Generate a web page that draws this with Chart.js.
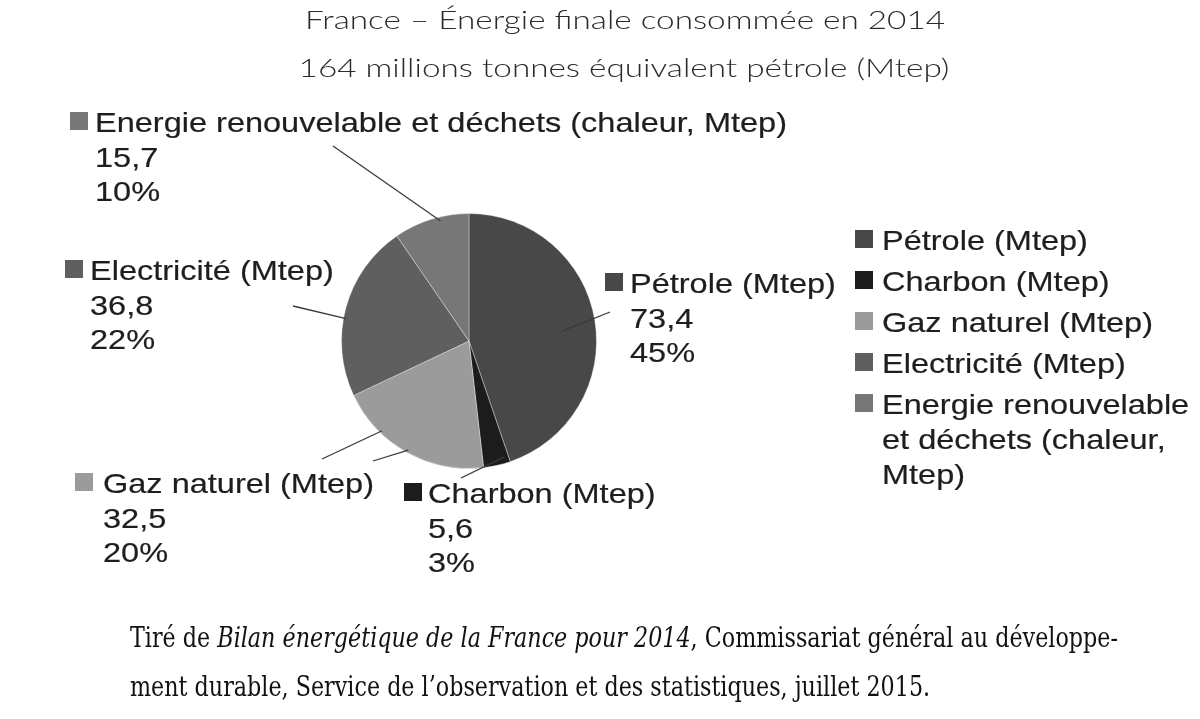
<!DOCTYPE html>
<html lang="fr">
<head>
<meta charset="utf-8">
<title>France – Énergie finale consommée en 2014</title>
<script src="https://cdn.jsdelivr.net/npm/chart.js@4.4.1/dist/chart.umd.min.js"></script>
<style>
  html, body { margin: 0; padding: 0; background: #fff; }
  #wrap { width: 1200px; height: 719px; }
</style>
</head>
<body>
<div id="wrap"><canvas id="energyChart" width="1200" height="719"></canvas></div>
<script>
// data
const categories = ['Pétrole (Mtep)', 'Charbon (Mtep)', 'Gaz naturel (Mtep)', 'Electricité (Mtep)', 'Energie renouvelable et déchets (chaleur, Mtep)'];
const valuesMtep = [73.4, 5.6, 32.5, 36.8, 15.7];
const sliceColors = ['#484848', '#1c1c1c', '#9b9b9b', '#5f5f5f', '#777777'];

const titleLines = ['France – Énergie finale consommée en 2014', '164 millions tonnes équivalent pétrole (Mtep)'];

// layout of the annotations (text boxes beside the pie)
const labelBoxes = [
    { x: 605, y: 293, tx: 630 },
    { x: 404, y: 503, tx: 428 },
    { x: 75, y: 493, tx: 103 },
    { x: 65, y: 280, tx: 90 },
    { x: 70, y: 132, tx: 95 }
];
// leader lines: end point near the label, position inside the slice
const leaders = [
    { slice: 0, ox: 610, oy: 312, frac: 0.52, r: 0.74 },
    { slice: 1, ox: 461, oy: 478, frac: 0.15, r: 0.95 },
    { slice: 2, ox: 373, oy: 461, frac: 0.5, r: 0.98 },
    { slice: 2, ox: 322, oy: 459, frac: 0.71, r: 0.98 },
    { slice: 3, ox: 293, oy: 306, frac: 0.44, r: 0.98 },
    { slice: 4, ox: 333, oy: 146, frac: 0.61, r: 0.97 }
];

const labelFont = '28px "Liberation Sans", Arial, sans-serif';
const textColor = '#1e1e1e';

const total = valuesMtep.reduce((a, b) => a + b, 0);
const fmt = v => v.toFixed(1).replace('.', ',');
const pct = v => Math.round(v / total * 100) + '%';

// draws text squeezed/stretched horizontally by sx
function drawText(ctx, str, x, y, font, sx, align, heavy) {
    ctx.save();
    ctx.font = font;
    const w = ctx.measureText(str).width * sx;
    let left = x;
    if (align === 'center') left = x - w / 2;
    ctx.translate(left, y);
    ctx.scale(sx, 1);
    ctx.textAlign = 'left';
    ctx.fillText(str, 0, 0);
    if (heavy) {
        ctx.strokeStyle = ctx.fillStyle;
        ctx.lineWidth = heavy;
        ctx.strokeText(str, 0, 0);
    }
    ctx.restore();
    return w;
}

function wrapWords(ctx, str, maxW, sx) {
    const words = str.split(' ');
    const lines = [];
    let cur = '';
    words.forEach(w => {
        const test = cur ? cur + ' ' + w : w;
        if (ctx.measureText(test).width * sx > maxW && cur) {
            lines.push(cur);
            cur = w;
        } else {
            cur = test;
        }
    });
    if (cur) lines.push(cur);
    return lines;
}

const annotations = {
    id: 'annotations',
    afterDraw(chart) {
        const ctx = chart.ctx;
        const arcs = chart.getDatasetMeta(0).data;
        ctx.save();
        ctx.textBaseline = 'alphabetic';

        // title
        ctx.fillStyle = '#2a2a2a';
        const titleFont = '300 25px Lato, sans-serif';
        ctx.font = titleFont;
        const tsx = 640 / ctx.measureText(titleLines[0]).width;
        drawText(ctx, titleLines[0], 625, 29, titleFont, tsx, 'center');
        drawText(ctx, titleLines[1], 624, 77, titleFont, tsx, 'center');

        // horizontal stretch of the label text
        ctx.font = labelFont;
        const sx = 692 / ctx.measureText(categories[4]).width;

        // leader lines
        ctx.strokeStyle = '#3a3a3a';
        ctx.lineWidth = 1.3;
        leaders.forEach(l => {
            const el = arcs[l.slice];
            const a = el.startAngle + (el.endAngle - el.startAngle) * l.frac;
            const ix = el.x + Math.cos(a) * el.outerRadius * l.r;
            const iy = el.y + Math.sin(a) * el.outerRadius * l.r;
            ctx.beginPath();
            ctx.moveTo(l.ox, l.oy);
            ctx.lineTo(ix, iy);
            ctx.stroke();
        });

        // data labels
        categories.forEach((cat, i) => {
            const b = labelBoxes[i];
            ctx.fillStyle = sliceColors[i];
            ctx.fillRect(b.x, b.y - 20, 18, 18);
            ctx.fillStyle = textColor;
            drawText(ctx, cat, b.tx, b.y, labelFont, sx, 'left', 0.2);
            drawText(ctx, fmt(valuesMtep[i]), b.tx, b.y + 35, labelFont, sx, 'left', 0.2);
            drawText(ctx, pct(valuesMtep[i]), b.tx, b.y + 69, labelFont, sx, 'left', 0.2);
        });

        // legend on the right
        let ly = 250;
        categories.forEach((cat, i) => {
            ctx.fillStyle = sliceColors[i];
            ctx.fillRect(855, ly - 20, 18, 18);
            ctx.fillStyle = textColor;
            ctx.font = labelFont;
            const lines = wrapWords(ctx, cat, 320, sx);
            lines.forEach((ln, k) => {
                drawText(ctx, ln, 882, ly + k * 35, labelFont, sx, 'left', 0.2);
            });
            ly += 41 + (lines.length - 1) * 35;
        });

        // source caption
        ctx.fillStyle = '#111';
        const capN = '27px "DejaVu Serif Condensed", "DejaVu Serif", serif';
        const capI = 'italic 27px "DejaVu Serif Condensed", "DejaVu Serif", serif';
        const seg1 = [['Tiré de ', capN], ['Bilan énergétique de la France pour 2014', capI], [', Commissariat général au développe-', capN]];
        let natural = 0;
        seg1.forEach(s => { ctx.font = s[1]; natural += ctx.measureText(s[0]).width; });
        const csx = 988 / natural;
        let cx = 130;
        seg1.forEach(s => { cx += drawText(ctx, s[0], cx, 647, s[1], csx); });
        drawText(ctx, 'ment durable, Service de l’observation et des statistiques, juillet 2015.', 130, 696, capN, csx);

        ctx.restore();
    }
};

const ctx = document.getElementById('energyChart').getContext('2d');
const energyChart = new Chart(ctx, {
    type: 'pie',
    data: {
        labels: categories,
        datasets: [{
            data: valuesMtep,
            backgroundColor: sliceColors,
            borderColor: 'rgba(255, 255, 255, 0.35)',
            borderWidth: 1
        }]
    },
    options: {
        responsive: false,
        animation: false,
        layout: {
            padding: { left: 341, right: 603, top: 213, bottom: 250 }
        },
        plugins: {
            legend: { display: false },
            tooltip: { enabled: false }
        }
    },
    plugins: [annotations]
});
</script>
</body>
</html>
